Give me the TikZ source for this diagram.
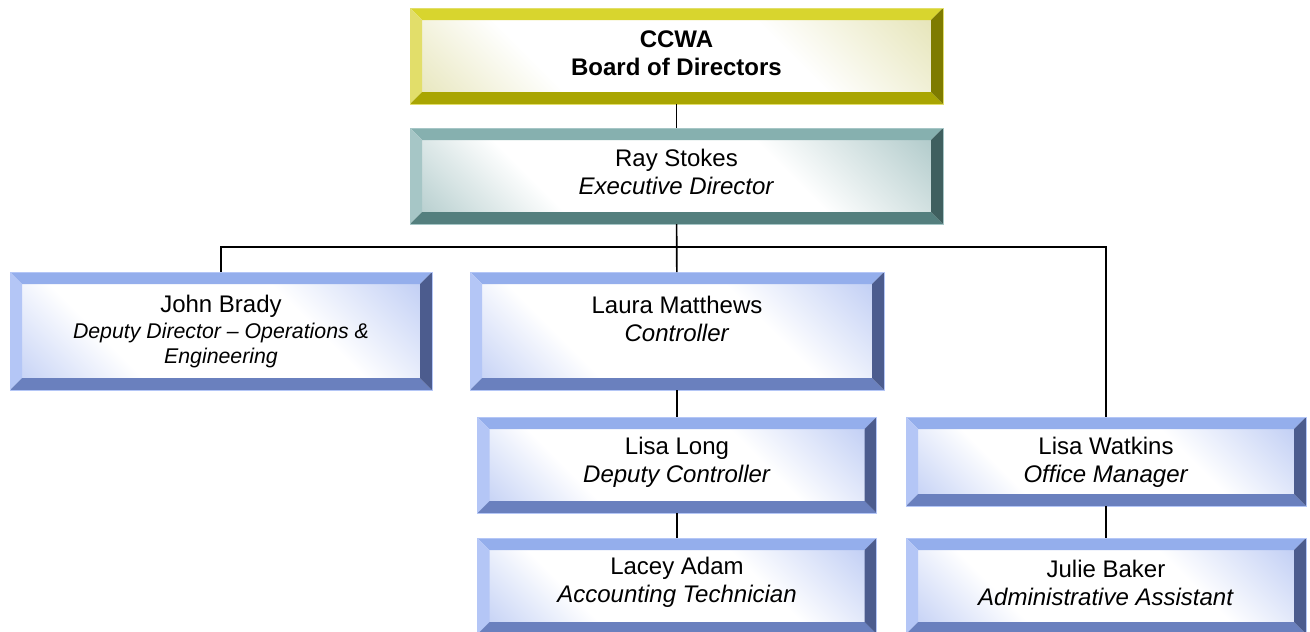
\documentclass[tikz,border=0pt]{standalone}
\usepackage{fontspec}
\setmainfont{Liberation Sans}
\usetikzlibrary{positioning}

\definecolor{bluetop}{HTML}{94AEEC}
\definecolor{blueleft}{HTML}{B4C6F6}
\definecolor{bluebot}{HTML}{6A80BE}
\definecolor{blueright}{HTML}{4C5C8E}
\definecolor{bluecore}{HTML}{9AB0EE}
\definecolor{tealtop}{HTML}{86B0AF}
\definecolor{tealleft}{HTML}{A6C6C6}
\definecolor{tealbot}{HTML}{547F7E}
\definecolor{tealright}{HTML}{3F5F5F}
\definecolor{tealcore}{HTML}{7FA9A9}
\definecolor{yeltop}{HTML}{D8D52E}
\definecolor{yelleft}{HTML}{E2DE6A}
\definecolor{yelbot}{HTML}{A9A502}
\definecolor{yelright}{HTML}{7E7B00}
\definecolor{yelcore}{HTML}{D6D48C}
\colorlet{orgcore}{white}

\pgfdeclareverticalshading[orgcore]{orgfade}{100bp}{%
  color(0bp)=(orgcore); color(32bp)=(white); color(64bp)=(white); color(100bp)=(orgcore)}

\newcommand{\smallit}{\fontsize{21.3}{25}\selectfont\itshape}

% bevelled box: top, left, bottom, right, core colour
\newcommand{\orgbevel}[5]{%
  \coordinate (pnw) at (path picture bounding box.north west);
  \coordinate (pse) at (path picture bounding box.south east);
  \colorlet{orgcore}{#5}%
  \shade[shading=orgfade, shading angle=-45]
    ([shift={(12pt,-12pt)}]pnw) rectangle ([shift={(-12pt,12pt)}]pse);
  \fill[#1] (pnw) -- (pnw -| pse) -- ([shift={(-12pt,-12pt)}]pnw -| pse) -- ([shift={(12pt,-12pt)}]pnw) -- cycle;
  \fill[#2] (pnw) -- ([shift={(12pt,-12pt)}]pnw) -- ([shift={(12pt,12pt)}]pnw |- pse) -- (pnw |- pse) -- cycle;
  \fill[#3] (pnw |- pse) -- ([shift={(12pt,12pt)}]pnw |- pse) -- ([shift={(-12pt,12pt)}]pse) -- (pse) -- cycle;
  \fill[#4] (pse) -- ([shift={(-12pt,12pt)}]pse) -- ([shift={(-12pt,-12pt)}]pnw -| pse) -- (pnw -| pse) -- cycle;
}

\tikzset{
  orgbox/.style={rectangle, inner sep=0pt, outer sep=0pt, align=center,
    line width=0.8pt, text depth=13pt, font=\fontsize{24}{28}\selectfont},
  bluebox/.style={orgbox, draw=blueleft,
    path picture={\orgbevel{bluetop}{blueleft}{bluebot}{blueright}{bluecore}}},
  tealbox/.style={orgbox, draw=tealleft,
    path picture={\orgbevel{tealtop}{tealleft}{tealbot}{tealright}{tealcore}}},
  yelbox/.style={orgbox, draw=yelleft,
    path picture={\orgbevel{yeltop}{yelleft}{yelbot}{yelright}{yelcore}}},
  link/.style={draw=black, line width=1.6pt}
}

\begin{document}
\begin{tikzpicture}[x=1pt, y=-1pt]

    \useasboundingbox (0,0) rectangle (1310,632);

    % Nodes
    \node[yelbox, minimum width=533pt, minimum height=96pt, text depth=5pt] (board) at (676.5,56)
        {\textbf{CCWA}\\\textbf{Board of Directors}}; %
    \node[tealbox, minimum width=533pt, minimum height=96pt, text depth=9pt, below=24pt of board] (ray)
        {Ray Stokes\\\textit{Executive Director}}; %

    \node[bluebox, minimum width=422pt, minimum height=118pt, text depth=4pt] (john) at (221,331)
        {John Brady\\[-2pt]{\smallit Deputy Director -- Operations \&}\\[-3pt]{\smallit Engineering}}; %
    \node[bluebox, minimum width=414pt, minimum height=118pt, text depth=25pt] (laura) at (677,331)
        {Laura Matthews\\\textit{Controller}}; %
    \node[bluebox, minimum width=399pt, minimum height=96pt, text depth=11pt, below=27pt of laura] (lisal)
        {Lisa Long\\\textit{Deputy Controller}}; %
    \node[bluebox, minimum width=399pt, minimum height=96pt, below=25pt of lisal] (lacey)
        {Lacey Adam\\\textit{Accounting Technician}}; %

    \node[bluebox, minimum width=400pt, minimum height=89pt, text depth=4pt] (lisaw) at (1106,461.5)
        {Lisa Watkins\\\textit{Office Manager}}; %
    \node[bluebox, minimum width=400pt, minimum height=96pt, text depth=7pt] (julie) at (1106,586)
        {Julie Baker\\\textit{Administrative Assistant}}; %

    % Links
    \coordinate (bus) at (0,247);

    \draw[link] (board) -- (ray);
    \draw[link] (ray) -- (laura);
    \draw[link] (ray.south) -- (ray.south |- bus) -| (john.north);
    \draw[link] (ray.south) -- (ray.south |- bus) -| (lisaw.north);
    \draw[link] (laura) -- (lisal);
    \draw[link] (lisal) -- (lacey);
    \draw[link] (lisaw) -- (julie);

\end{tikzpicture}
\end{document}
